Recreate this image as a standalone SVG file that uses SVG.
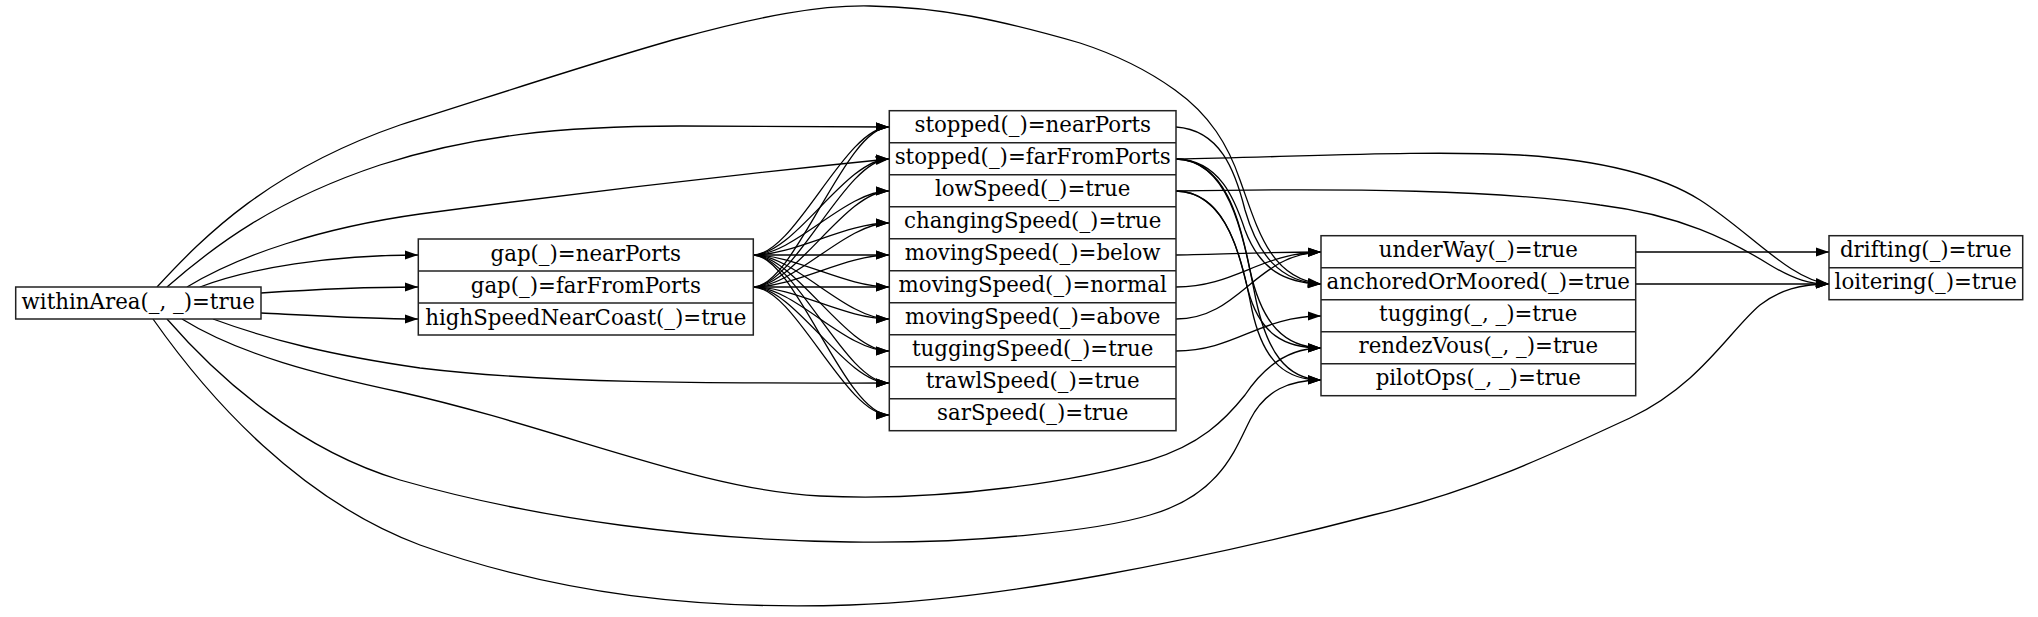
<svg xmlns="http://www.w3.org/2000/svg" width="2038" height="617" viewBox="0 0 2038 617">
<style>
.bg{fill:#fff}
.box{fill:#fff;stroke:#222;stroke-width:1.5}
.sep{stroke:#222;stroke-width:1.5}
.e{fill:none;stroke:#000;stroke-width:1.3;marker-end:url(#ah)}
text{font-family:"DejaVu Serif","Liberation Serif",serif;font-size:21.33px;text-anchor:middle;fill:#000}
</style>
<defs>
<marker id="ah" markerWidth="14" markerHeight="10" refX="13.33" refY="4.67" orient="auto" markerUnits="userSpaceOnUse"><path d="M0,0 L13.33,4.67 L0,9.33 z" fill="#000"/></marker>
</defs>
<rect class="bg" x="0" y="0" width="2038" height="617"/>
<g id="edges">
<path class="e" d="M200,287 C250,268 330,255 418,255"/>
<path class="e" d="M261,293 C320,289 370,287 418,287"/>
<path class="e" d="M261,313 C320,316 370,319 418,319"/>
<path class="e" d="M167,287 C215,245 275,200 380,165 C470,136 560,126 680,126 C780,126 840,127 889,127"/>
<path class="e" d="M187,287 C240,255 320,228 420,214 C600,190 780,170 889,159"/>
<path class="e" d="M157,287 C205,235 270,170 400,125 C480,100 600,60 680,38 C760,16 820,5 870,6 C940,7 1000,20 1080,43 C1120,56 1150,72 1175,90 C1210,115 1228,145 1240,180 C1258,230 1270,278 1321,284"/>
<path class="e" d="M213,319 C270,340 330,355 420,368 C560,385 750,383 889,383"/>
<path class="e" d="M182,319 C240,355 320,375 400,392 C560,428 700,490 820,496 C950,502 1080,480 1150,460 C1200,445 1225,420 1245,395 C1265,365 1290,348 1321,348"/>
<path class="e" d="M167,319 C220,380 300,450 400,480 C540,520 700,540 850,542 C980,544 1100,530 1150,515 C1220,495 1235,450 1250,420 C1265,390 1290,380 1321,380"/>
<path class="e" d="M153,319 C210,400 300,500 420,545 C560,595 700,610 850,605 C1000,600 1200,560 1373,515 C1480,490 1560,450 1630,418 C1700,385 1730,330 1760,305 C1780,290 1800,284 1829,284"/>
<path class="e" d="M753,255 C795,255 845,127 889,127"/>
<path class="e" d="M753,255 C795,255 845,159 889,159"/>
<path class="e" d="M753,255 C795,255 845,191 889,191"/>
<path class="e" d="M753,255 C795,255 845,223 889,223"/>
<path class="e" d="M753,255 C795,255 845,255 889,255"/>
<path class="e" d="M753,255 C795,255 845,287 889,287"/>
<path class="e" d="M753,255 C795,255 845,319 889,319"/>
<path class="e" d="M753,255 C795,255 845,351 889,351"/>
<path class="e" d="M753,255 C795,255 845,383 889,383"/>
<path class="e" d="M753,255 C795,255 845,415 889,415"/>
<path class="e" d="M753,287 C795,287 845,127 889,127"/>
<path class="e" d="M753,287 C795,287 845,159 889,159"/>
<path class="e" d="M753,287 C795,287 845,191 889,191"/>
<path class="e" d="M753,287 C795,287 845,223 889,223"/>
<path class="e" d="M753,287 C795,287 845,255 889,255"/>
<path class="e" d="M753,287 C795,287 845,287 889,287"/>
<path class="e" d="M753,287 C795,287 845,319 889,319"/>
<path class="e" d="M753,287 C795,287 845,351 889,351"/>
<path class="e" d="M753,287 C795,287 845,383 889,383"/>
<path class="e" d="M753,287 C795,287 845,415 889,415"/>
<path class="e" d="M1176,127 C1220,130 1235,170 1245,210 C1258,255 1280,282 1321,284"/>
<path class="e" d="M1176,159 C1220,160 1235,200 1245,230 C1260,270 1285,283 1321,284"/>
<path class="e" d="M1176,159 C1225,160 1240,220 1250,270 C1262,325 1285,347 1321,348"/>
<path class="e" d="M1176,159 C1228,160 1242,230 1254,290 C1266,355 1288,379 1321,380"/>
<path class="e" d="M1176,191 C1225,192 1238,250 1248,290 C1260,335 1285,348 1321,348"/>
<path class="e" d="M1176,191 C1228,192 1242,260 1252,310 C1264,365 1288,380 1321,380"/>
<path class="e" d="M1176,255 C1230,254 1270,252 1321,252"/>
<path class="e" d="M1176,287 C1235,287 1260,253 1321,252"/>
<path class="e" d="M1176,319 C1240,319 1255,254 1321,252"/>
<path class="e" d="M1176,351 C1235,351 1260,316 1321,316"/>
<path class="e" d="M1176,159 C1300,157 1420,150 1520,155 C1600,160 1660,175 1700,200 C1750,232 1790,280 1829,284"/>
<path class="e" d="M1176,191 C1350,188 1500,190 1600,205 C1680,215 1730,240 1770,265 C1795,280 1810,284 1829,284"/>
<path class="e" d="M1636,284 L1829,284"/>
<path class="e" d="M1636,252 L1829,252"/>
</g>
<g id="withinArea">
<rect class="box" x="15.7" y="287" width="245.3" height="32"/>
<text x="138.3" y="308.5">withinArea(_, _)=true</text>
</g>
<g id="gap">
<rect class="box" x="418.3" y="239" width="335" height="96"/>
<line class="sep" x1="418.3" y1="271" x2="753.3" y2="271"/>
<line class="sep" x1="418.3" y1="303" x2="753.3" y2="303"/>
<text x="585.8" y="260.5">gap(_)=nearPorts</text>
<text x="585.8" y="292.5">gap(_)=farFromPorts</text>
<text x="585.8" y="324.5">highSpeedNearCoast(_)=true</text>
</g>
<g id="speed">
<rect class="box" x="889.3" y="110.7" width="286.7" height="320"/>
<line class="sep" x1="889.3" y1="142.7" x2="1176" y2="142.7"/>
<line class="sep" x1="889.3" y1="174.7" x2="1176" y2="174.7"/>
<line class="sep" x1="889.3" y1="206.7" x2="1176" y2="206.7"/>
<line class="sep" x1="889.3" y1="238.7" x2="1176" y2="238.7"/>
<line class="sep" x1="889.3" y1="270.7" x2="1176" y2="270.7"/>
<line class="sep" x1="889.3" y1="302.7" x2="1176" y2="302.7"/>
<line class="sep" x1="889.3" y1="334.7" x2="1176" y2="334.7"/>
<line class="sep" x1="889.3" y1="366.7" x2="1176" y2="366.7"/>
<line class="sep" x1="889.3" y1="398.7" x2="1176" y2="398.7"/>
<text x="1032.7" y="132.2">stopped(_)=nearPorts</text>
<text x="1032.7" y="164.2">stopped(_)=farFromPorts</text>
<text x="1032.7" y="196.2">lowSpeed(_)=true</text>
<text x="1032.7" y="228.2">changingSpeed(_)=true</text>
<text x="1032.7" y="260.2">movingSpeed(_)=below</text>
<text x="1032.7" y="292.2">movingSpeed(_)=normal</text>
<text x="1032.7" y="324.2">movingSpeed(_)=above</text>
<text x="1032.7" y="356.2">tuggingSpeed(_)=true</text>
<text x="1032.7" y="388.2">trawlSpeed(_)=true</text>
<text x="1032.7" y="420.2">sarSpeed(_)=true</text>
</g>
<g id="activities">
<rect class="box" x="1321" y="235.7" width="314.7" height="160"/>
<line class="sep" x1="1321" y1="267.7" x2="1635.7" y2="267.7"/>
<line class="sep" x1="1321" y1="299.7" x2="1635.7" y2="299.7"/>
<line class="sep" x1="1321" y1="331.7" x2="1635.7" y2="331.7"/>
<line class="sep" x1="1321" y1="363.7" x2="1635.7" y2="363.7"/>
<text x="1478.3" y="257.2">underWay(_)=true</text>
<text x="1478.3" y="289.2">anchoredOrMoored(_)=true</text>
<text x="1478.3" y="321.2">tugging(_, _)=true</text>
<text x="1478.3" y="353.2">rendezVous(_, _)=true</text>
<text x="1478.3" y="385.2">pilotOps(_, _)=true</text>
</g>
<g id="complex">
<rect class="box" x="1829" y="235.7" width="193.7" height="64"/>
<line class="sep" x1="1829" y1="267.7" x2="2022.7" y2="267.7"/>
<text x="1925.8" y="257.2">drifting(_)=true</text>
<text x="1925.8" y="289.2">loitering(_)=true</text>
</g>
</svg>
